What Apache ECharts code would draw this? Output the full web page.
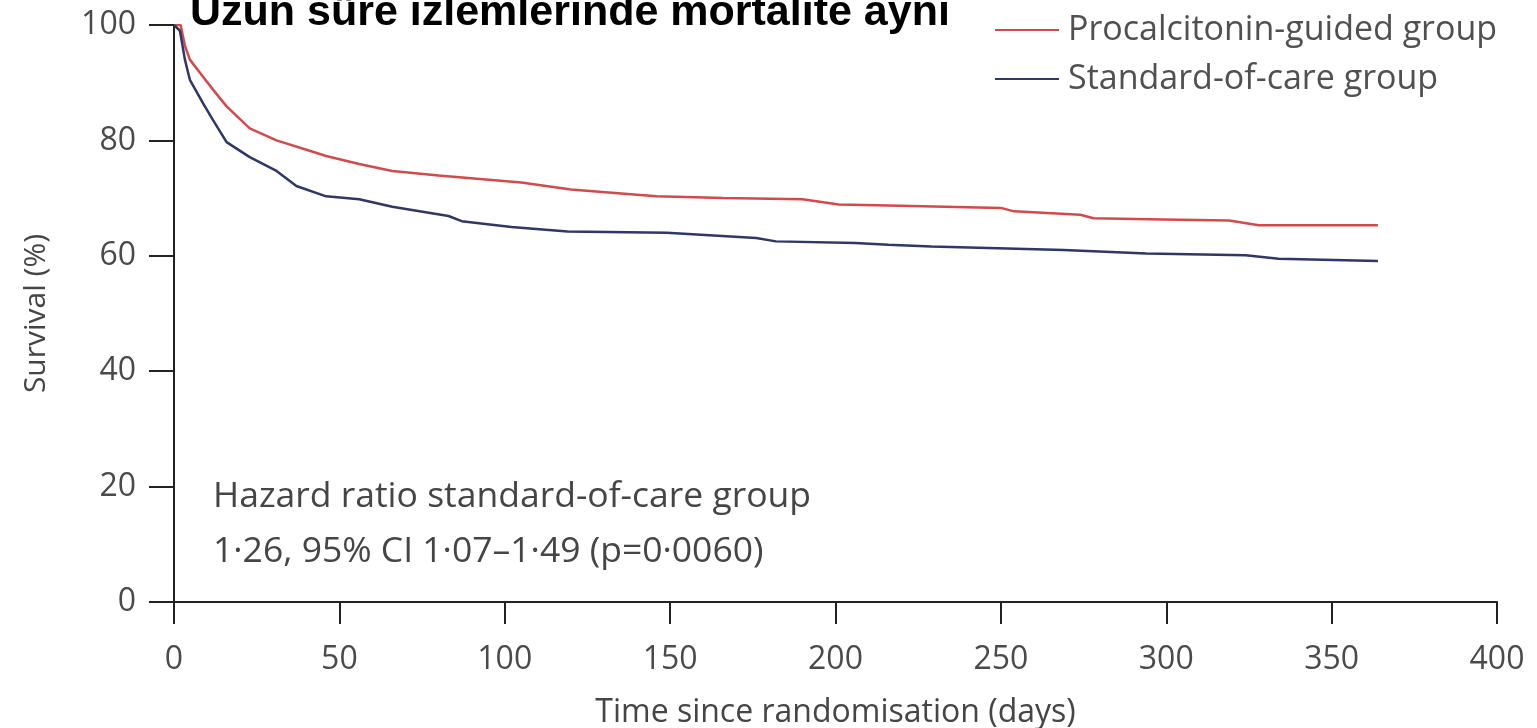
<!DOCTYPE html>
<html>
<head>
<meta charset="utf-8">
<script src="https://cdn.jsdelivr.net/npm/echarts@6/dist/echarts.min.js"></script>
<style>
html,body{margin:0;padding:0;background:#fff;}
#chart{width:1537px;height:728px;}
</style>
</head>
<body>
<div id="chart"></div>
<script>
const titleText = 'Uzun süre izlemlerinde mortalite aynı';
const seriesNames = ['Procalcitonin-guided group', 'Standard-of-care group'];
const xTicks = [0, 50, 100, 150, 200, 250, 300, 350, 400];
const yTicks = [0, 20, 40, 60, 80, 100];
const xAxisName = 'Time since randomisation (days)';
const yAxisName = 'Survival (%)';
const noteLines = ['Hazard ratio standard-of-care group', '1·26, 95% CI 1·07–1·49 (p=0·0060)'];

const pctDays = [0, 2, 3.3, 4.8, 7.9, 11.8, 15.9, 22.9, 31, 41, 46, 56, 66, 80, 105, 120, 140, 146, 166, 190, 201, 216, 250, 254, 274, 278, 299, 319, 328, 364];
const pctSurv = [100, 100, 96.4, 94.0, 91.7, 88.8, 85.9, 82.1, 80.0, 78.2, 77.3, 75.9, 74.7, 73.9, 72.7, 71.5, 70.6, 70.3, 70.0, 69.8, 68.9, 68.7, 68.3, 67.7, 67.1, 66.5, 66.3, 66.1, 65.3, 65.3];

const socDays = [0, 1.8, 3.3, 4.8, 8.8, 11.8, 15.9, 22.9, 31, 37, 46, 56, 66, 83, 87, 102, 119, 149, 176, 182, 206, 216, 229, 269, 294, 324, 334, 364];
const socSurv = [100, 99, 94.0, 90.5, 86.4, 83.5, 79.7, 77.1, 74.7, 72.1, 70.3, 69.8, 68.5, 66.9, 66.0, 65.0, 64.2, 64.0, 63.1, 62.5, 62.2, 61.9, 61.6, 61.0, 60.4, 60.1, 59.5, 59.1];

const font = "'Open Sans', 'Noto Sans', sans-serif";
const chart = echarts.init(document.getElementById('chart'));
chart.setOption({
  animation: false,
  backgroundColor: '#fff',
  grid: {left: 174, right: 40, top: 25, bottom: 126, containLabel: false, outerBoundsMode: 'none'},
  legend: {
    orient: 'vertical', left: 990, top: 8, itemGap: 15,
    icon: 'rect', itemWidth: 64, itemHeight: 2,
    textStyle: {fontFamily: font, fontSize: 34, color: '#505050', padding: [0, 0, 0, 4]},
    data: seriesNames
  },
  graphic: [
    {type: 'text', left: 190, top: -8, z: 100,
     style: {text: titleText, font: "bold 43px 'Liberation Sans', Arial, sans-serif", fill: '#000'}},
    {type: 'text', left: 213, top: 469,
     style: {text: noteLines.join('\n'), font: "35.5px " + font, fill: '#454545', lineHeight: 55}}
  ],
  xAxis: {
    type: 'value', min: 0, max: 400, interval: 50,
    name: xAxisName, nameLocation: 'middle', nameGap: 95,
    nameTextStyle: {fontFamily: font, fontSize: 32, color: '#454545'},
    axisLine: {show: true, lineStyle: {color: '#222', width: 2}},
    axisTick: {show: true, inside: false, length: 22, lineStyle: {color: '#222', width: 2}},
    axisLabel: {fontFamily: font, fontSize: 32, color: '#4a4a4a', margin: 42,
      formatter: v => xTicks.includes(v) ? String(v) : ''},
    splitLine: {show: false}
  },
  yAxis: {
    type: 'value', min: 0, max: 100, interval: 20,
    name: yAxisName, nameLocation: 'middle', nameGap: 123,
    nameTextStyle: {fontFamily: font, fontSize: 30, color: '#454545'},
    axisLine: {show: true, lineStyle: {color: '#222', width: 2}},
    axisTick: {show: true, inside: false, length: 25, lineStyle: {color: '#222', width: 2}},
    axisLabel: {fontFamily: font, fontSize: 32, color: '#4a4a4a', margin: 38,
      formatter: v => yTicks.includes(v) ? String(v) : ''},
    splitLine: {show: false}
  },
  series: [
    {name: seriesNames[0], type: 'line', showSymbol: false, symbol: 'none',
     data: pctDays.map((d, i) => [d, pctSurv[i]]),
     lineStyle: {color: '#d44a4a', width: 2.5}, itemStyle: {color: '#d44a4a'}},
    {name: seriesNames[1], type: 'line', showSymbol: false, symbol: 'none',
     data: socDays.map((d, i) => [d, socSurv[i]]),
     lineStyle: {color: '#2e3766', width: 2.5}, itemStyle: {color: '#2e3766'}}
  ]
});
</script>
</body>
</html>
